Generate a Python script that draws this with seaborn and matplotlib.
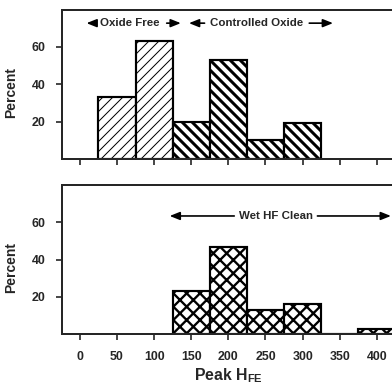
import matplotlib
matplotlib.use("Agg")
import matplotlib.pyplot as plt
import seaborn as sns
import pandas as pd

# ---- data ----
oxide_free_x = [50, 100]
oxide_free_pct = [33, 63]
controlled_x = [150, 200, 250, 300]
controlled_pct = [20, 53, 10, 19.5]
wethf_x = [150, 200, 250, 300, 350, 400]
wethf_pct = [23, 47, 13, 16.5, 0, 3]
xtick_vals = [0, 50, 100, 150, 200, 250, 300, 350, 400]
ytick_vals = [20, 40, 60]
top_labels = ["Oxide Free", "Controlled Oxide"]
bottom_label = "Wet HF Clean"

sns.set_style("ticks")
plt.rcParams["font.family"] = ["Liberation Sans", "DejaVu Sans"]
plt.rcParams["font.weight"] = "bold"
plt.rcParams["mathtext.fontset"] = "custom"
plt.rcParams["mathtext.rm"] = "Liberation Sans:bold"
plt.rcParams["mathtext.bf"] = "Liberation Sans:bold"

DPI = 120
fig = plt.figure(figsize=(392 / DPI, 385 / DPI), dpi=DPI)
ax_top = fig.add_axes([0.1582, 0.587, 0.8485, 0.3883])
ax_bot = fig.add_axes([0.1582, 0.1317, 0.8485, 0.3878])


def hist(ax, xs, ws, hatch, hlw):
    n0 = len(ax.patches)
    lo = min(xs) - 25
    hi = max(xs) + 25
    edges = list(range(lo, hi + 1, 50))
    df = pd.DataFrame({"x": xs, "w": ws})
    sns.histplot(data=df, x="x", weights="w", bins=edges, ax=ax,
                 color="white", edgecolor="black", linewidth=1.3, alpha=1)
    for p in ax.patches[n0:]:
        p.set_facecolor("white")
        p.set_edgecolor("black")
        p.set_hatch(hatch)
        if hasattr(p, "set_hatch_linewidth"):
            p.set_hatch_linewidth(hlw)


hist(ax_top, oxide_free_x, oxide_free_pct, "////", 0.6)
hist(ax_top, controlled_x, controlled_pct, "\\\\\\\\", 1.8)
hist(ax_bot, wethf_x, wethf_pct, "xxx", 1.4)

for ax in (ax_top, ax_bot):
    ax.set_xlim(-24, 424)
    ax.set_ylim(0, 80)
    ax.set_xticks(xtick_vals)
    ax.set_yticks(ytick_vals)
    ax.tick_params(axis="both", direction="out", length=3.5, width=1.0,
                   labelsize=7.4, pad=6.5)
    for s in ax.spines.values():
        s.set_visible(True)
        s.set_linewidth(1.2)
    ax.set_ylabel("Percent", fontsize=8.3, fontweight="bold")
    ax.yaxis.set_label_coords(-0.132, 0.445)
    for lab in ax.get_xticklabels() + ax.get_yticklabels():
        lab.set_fontweight("bold")

ax_top.set_xticklabels([])
ax_top.set_xlabel("")
ax_bot.set_xticklabels([str(v) for v in xtick_vals])
for lab in ax_bot.get_xticklabels():
    lab.set_fontweight("bold")
ax_bot.set_xlabel(r"Peak H$_\mathregular{FE}$", fontsize=9.5, fontweight="bold",
                  labelpad=2)

arrow = dict(arrowstyle="-|>,head_length=0.5,head_width=0.2", color="black",
             lw=1.0, shrinkA=0, shrinkB=0)
tfs = 6.9

# top annotations
y1 = 72.7
ax_top.text(67, y1, top_labels[0], ha="center", va="center", fontsize=tfs,
            fontweight="bold")
ax_top.annotate("", xy=(9, y1), xytext=(21, y1), arrowprops=arrow)
ax_top.annotate("", xy=(136, y1), xytext=(117, y1), arrowprops=arrow)
ax_top.text(238, y1, top_labels[1], ha="center", va="center", fontsize=tfs,
            fontweight="bold")
ax_top.annotate("", xy=(147, y1), xytext=(168, y1), arrowprops=arrow)
ax_top.annotate("", xy=(341, y1), xytext=(309, y1), arrowprops=arrow)

# bottom annotation
y2 = 63.4
ax_bot.text(264, y2, bottom_label, ha="center", va="center", fontsize=tfs,
            fontweight="bold")
ax_bot.annotate("", xy=(121, y2), xytext=(208, y2), arrowprops=arrow)
ax_bot.annotate("", xy=(419, y2), xytext=(320, y2), arrowprops=arrow)

fig.savefig("out.png", dpi=DPI)
